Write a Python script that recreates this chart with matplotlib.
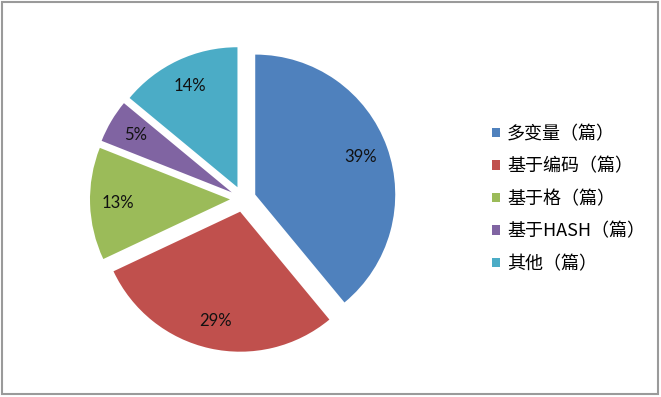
import matplotlib.pyplot as plt
from matplotlib.patches import Rectangle

plt.rcParams['font.family'] = ['Noto Sans CJK SC', 'DejaVu Sans']

# data
categories = ['多变量（篇）', '基于编码（篇）', '基于格（篇）', '基于HASH（篇）', '其他（篇）']
shares = [39, 29, 13, 5, 14]
colors = ['#4F81BD', '#C0504D', '#9BBB59', '#8064A2', '#4BACC6']

W, H = 661, 397
fig = plt.figure(figsize=(W / 100, H / 100), dpi=100)
ax = fig.add_axes([0, 0, 1, 1])

# pie drawn in pixel units so centre / radius match the original
cx, cy, r = 243, H - 199, 140
wedges, texts, autotexts = ax.pie(
    shares, colors=colors, startangle=90, counterclock=False,
    explode=[13] * len(shares), radius=r, center=(cx, cy),
    autopct='%d%%', pctdistance=0.8,
    wedgeprops=dict(linewidth=0),
    textprops=dict(fontsize=12, family=['Lato', 'DejaVu Sans'], color='#111111'))
ax.set_xlim(0, W)
ax.set_ylim(0, H)
ax.set_aspect('equal')
ax.axis('off')

fig.legend(wedges, categories, loc='center left', bbox_to_anchor=(476 / W, 1 - 199 / H),
           frameon=False, fontsize=13, handlelength=0.42, handleheight=0.42,
           handletextpad=0.4, labelspacing=0.8)

# outer chart border
fig.patches.append(Rectangle((2 / W, 3 / H), 656 / W, 392 / H, transform=fig.transFigure,
                             fill=False, edgecolor='#9a9a9a', linewidth=1.5))

fig.savefig('out.png', dpi=100)
